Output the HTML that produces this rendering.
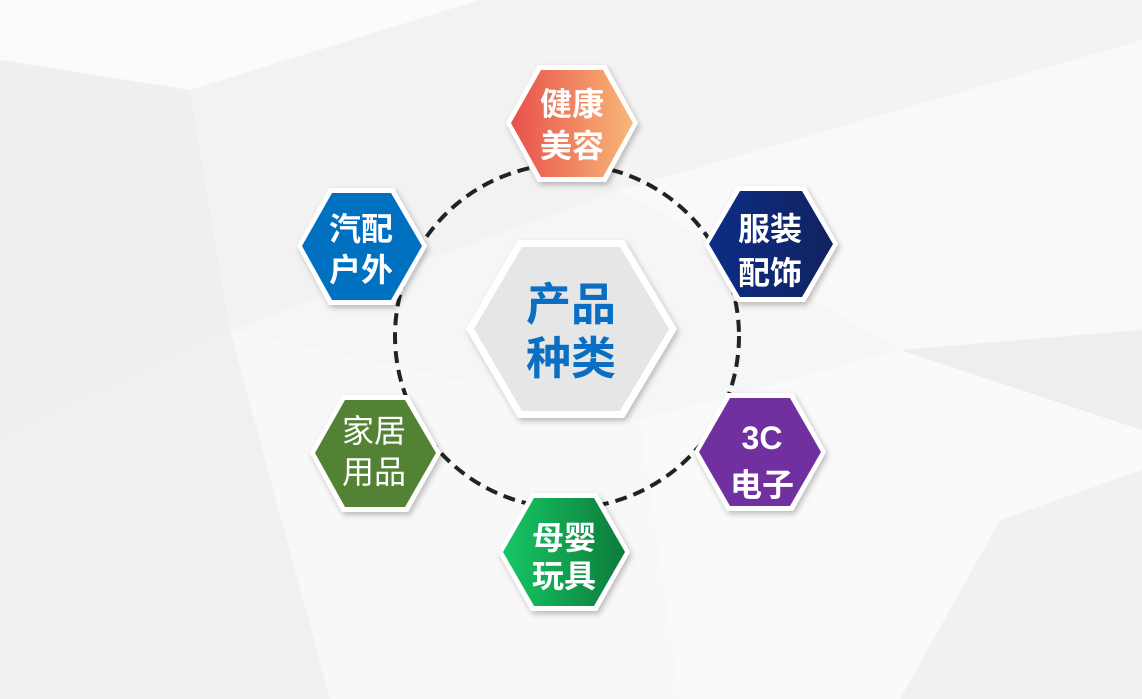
<!DOCTYPE html>
<html><head><meta charset="utf-8"><style>
html,body{margin:0;padding:0;width:1142px;height:699px;overflow:hidden;background:#f7f7f7}
svg{position:absolute;left:0;top:0}
text{font-family:"Liberation Sans","Noto Sans CJK SC",sans-serif;}
</style></head><body>
<svg width="1142" height="699" viewBox="0 0 1142 699">
<defs>
<linearGradient id="g1" x1="0" x2="1"><stop offset="0" stop-color="#e8504a"/><stop offset="1" stop-color="#f8b878"/></linearGradient>
<linearGradient id="g2" x1="0" x2="1"><stop offset="0" stop-color="#0b2d86"/><stop offset="1" stop-color="#122260"/></linearGradient>
<linearGradient id="g3" x1="0" x2="1"><stop offset="0" stop-color="#16c765"/><stop offset="1" stop-color="#0d7a3a"/></linearGradient>
<filter id="sh" x="-20%" y="-20%" width="140%" height="140%"><feDropShadow dx="2" dy="3" stdDeviation="3" flood-color="#000" flood-opacity="0.25"/></filter>
</defs>
<rect width="1142" height="699" fill="#f6f6f6"/>
<polygon points="0,0 480,0 190,90 0,60" fill="#fbfbfb"/>
<polygon points="0,60 190,90 230,330 0,440" fill="#efefef"/>
<polygon points="190,90 480,0 620,190 230,330" fill="#f2f2f2"/>
<polygon points="620,190 1142,40 1142,330 900,350" fill="#f9f9f9"/>
<polygon points="480,0 1142,0 1142,40 620,190" fill="#f3f3f3"/>
<polygon points="0,440 230,330 330,699 0,699" fill="#f0f0f0"/>
<polygon points="230,330 640,420 680,699 330,699" fill="#f8f8f8"/>
<polygon points="640,420 900,350 1142,430 1142,699 680,699" fill="#fafafa"/>
<polygon points="900,350 1142,330 1142,430" fill="#eeeeee"/>
<polygon points="1000,520 1142,470 1142,699 900,699" fill="#f1f1f1"/>
<circle cx="567" cy="336" r="172" fill="none" stroke="#222" stroke-width="4" stroke-dasharray="12 7"/>
<polygon points="466,329 518,240 624,240 677,329 624,418 518,418" fill="#fff" filter="url(#sh)"/>
<polygon points="474,329 522,247 620,247 669,329 620,411 522,411" fill="#e6e6e6"/>
<text x="571" y="320" font-size="45" font-weight="bold" fill="#0a6fc2" text-anchor="middle">产品</text>
<text x="571" y="374" font-size="45" font-weight="bold" fill="#0a6fc2" text-anchor="middle">种类</text>
<g filter="url(#sh)">
<polygon points="506,123 538,65 606,65 638,123 606,182 538,182" fill="#fff"/>
<polygon points="704,244 737,186 805,186 838,244 805,302 737,302" fill="#fff"/>
<polygon points="694,452 727,393 793,393 826,452 793,511 727,511" fill="#fff"/>
<polygon points="498,552 531,493 597,493 630,552 597,611 531,611" fill="#fff"/>
<polygon points="310,453 342,395 408,395 441,453 408,512 342,512" fill="#fff"/>
<polygon points="297,246 329,188 394,188 427,246 394,305 329,305" fill="#fff"/>
</g>
<polygon points="511,123 541,70 603,70 633,123 603,177 541,177" fill="url(#g1)"/>
<polygon points="709,244 740,191 802,191 833,244 802,297 740,297" fill="url(#g2)"/>
<polygon points="699,452 730,398 790,398 821,452 790,506 730,506" fill="#7030a0"/>
<polygon points="503,552 534,498 594,498 625,552 594,606 534,606" fill="url(#g3)"/>
<polygon points="315,453 345,400 405,400 436,453 405,507 345,507" fill="#548235"/>
<polygon points="302,246 332,193 391,193 422,246 391,300 332,300" fill="#0070c0"/>
<g font-size="32" font-weight="bold" fill="#fff" text-anchor="middle">
<text x="572" y="115">健康</text><text x="572" y="157">美容</text>
<text x="770" y="240">服装</text><text x="770" y="284">配饰</text>
<text x="762" y="449">3C</text><text x="762" y="496">电子</text>
<text x="564" y="549">母婴</text><text x="564" y="587">玩具</text>
<text x="361" y="240">汽配</text><text x="361" y="281">户外</text>
</g>
<g font-size="32" fill="#fff" text-anchor="middle">
<text x="374" y="442">家居</text><text x="374" y="483">用品</text>
</g>
</svg>
</body></html>
